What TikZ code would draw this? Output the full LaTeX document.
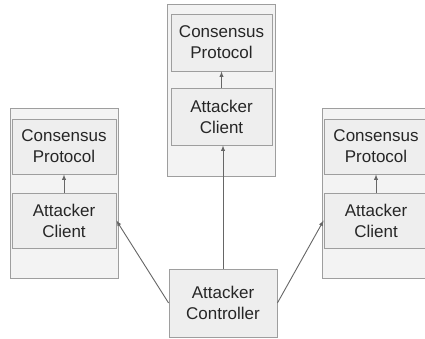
\documentclass[tikz,border=0pt]{standalone}
\usepackage{fontspec}
\setmainfont{Liberation Sans}
\usepackage{tikz}
\usetikzlibrary{shapes}

\definecolor{boxline}{HTML}{9E9E9E}
\definecolor{outerfill}{HTML}{F3F3F3}
\definecolor{innerfill}{HTML}{EEEEEE}
\definecolor{arrowgray}{HTML}{666666}

\tikzset{
	host/.style={rectangle,draw=boxline,fill=outerfill,line width=0.8pt,minimum width=108pt},
	part/.style={rectangle,draw=boxline,fill=innerfill,line width=0.8pt,align=center,
		font=\fontsize{17}{21}\selectfont,text=black!85,inner sep=0pt},
	>=latex
}

\begin{document}
\begin{tikzpicture}[x=1pt,y=-1pt]
		
			\clip (0,0) rectangle (425,338);
			\fill[white] (0,0) rectangle (425,338);
			
			\node[host,minimum height=172pt] (thost) at (221,90) {};
			\node[part,minimum width=101pt,minimum height=57pt] (tcons) at (221.5,42.5) {Consensus\\Protocol};
			\node[part,minimum width=101pt,minimum height=57pt] (tclient) at (221.5,116.5) {Attacker\\Client};
			
			\node[host,minimum height=170pt] (lhost) at (64,193) {};
			\node[part,minimum width=104pt,minimum height=55pt] (lcons) at (64,146.5) {Consensus\\Protocol};
			\node[part,minimum width=104pt,minimum height=55pt] (lclient) at (64,220.5) {Attacker\\Client};
			
			\node[host,minimum height=170pt] (rhost) at (376,193) {};
			\node[part,minimum width=104pt,minimum height=55pt] (rcons) at (376,146.5) {Consensus\\Protocol};
			\node[part,minimum width=104pt,minimum height=55pt] (rclient) at (376,220.5) {Attacker\\Client};
			
			\node[part,minimum width=108pt,minimum height=68pt] (ctrl) at (223,303) {Attacker\\Controller};
			
			\path[->,draw,arrowgray,line width=0.9pt] (tclient) -- (tcons);
			\path[->,draw,arrowgray,line width=0.9pt] (lclient) -- (lcons);
			\path[->,draw,arrowgray,line width=0.9pt] (rclient) -- (rcons);
			
			\path[->,draw,arrowgray,line width=0.9pt] (ctrl.west) -- (lclient.east);
			\path[->,draw,arrowgray,line width=0.9pt] (ctrl.north) -- (ctrl.north |- tclient.south);
			\path[->,draw,arrowgray,line width=0.9pt] (ctrl.east) -- (rclient.west);
		
		\end{tikzpicture}
\end{document}
